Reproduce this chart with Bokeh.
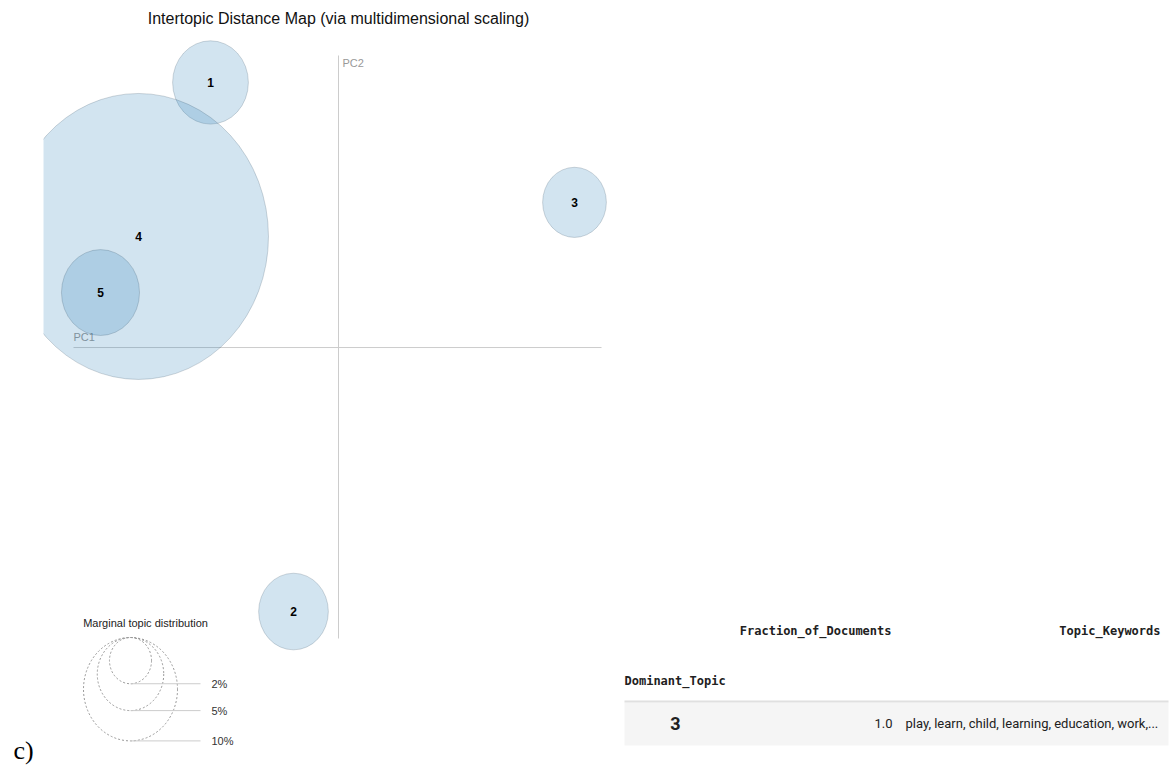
from bokeh.plotting import figure
from bokeh.models import Range1d, ColumnDataSource
from bokeh.layouts import row
from bokeh.core.properties import value
from bokeh.embed import file_html
from bokeh.resources import INLINE
import numpy as np

# ---- data: topic map (PC coordinates from MDS, marginal % of tokens) ----
topic_ids = ["1", "2", "3", "4", "5"]
topic_pc1 = [-0.128, -0.045, 0.236, -0.200, -0.238]
topic_pc2 = [0.241, -0.240, 0.132, 0.101, 0.050]
topic_pct = [6.5, 5.5, 4.6, 76.5, 6.9]

legend_pcts = [2, 5, 10]
legend_labels = ["2%", "5%", "10%"]

# ---- data: dominant topic table ----
table_columns = ["Fraction_of_Documents", "Topic_Keywords"]
table_index_name = "Dominant_Topic"
table_index = ["3"]
table_fraction = ["1.0"]
table_keywords = ["play, learn, child, learning, education, work,..."]

TITLE = "Intertopic Distance Map (via multidimensional scaling)"
R10 = 0.047  # radius (PC units) of a 10% topic


def radius(p):
    return R10 * np.sqrt(np.asarray(p, dtype=float) / 10.0)


def blank(p):
    p.xgrid.visible = False
    p.ygrid.visible = False
    p.outline_line_color = None
    p.min_border = 0
    p.background_fill_color = "white"
    p.border_fill_color = "white"


# ---- left strip with panel letter ----
strip = figure(width=43, height=769, x_range=Range1d(0, 43), y_range=Range1d(769, 0),
               toolbar_location=None, output_backend="svg",
               x_axis_location=None, y_axis_location=None)
blank(strip)
strip.text(x=[23], y=[750], text=["c)"], text_font=value("Liberation Serif"),
           text_font_size="26px", text_align="center", text_baseline="middle",
           text_color="black")

# ---- topic map ----
m = figure(width=567, height=769, x_range=Range1d(-0.295, 0.272),
           y_range=Range1d(-0.3836, 0.3155),
           toolbar_location=None, output_backend="svg",
           x_axis_location=None, y_axis_location=None)
blank(m)

# axes of the MDS space
m.segment(x0=[-0.265], y0=[0], x1=[0.263], y1=[0], line_color="#cccccc", line_width=1)
m.segment(x0=[0], y0=[-0.2645], x1=[0], y1=[0.2655], line_color="#cccccc", line_width=1)
m.text(x=[-0.265], y=[0.004], text=["PC1"], text_font=value("Liberation Sans"),
       text_font_size="11px", text_color="#999999", text_align="left", text_baseline="bottom")
m.text(x=[0.004], y=[0.259], text=["PC2"], text_font=value("Liberation Sans"),
       text_font_size="11px", text_color="#999999", text_align="left", text_baseline="middle")

r = radius(topic_pct)
src = ColumnDataSource(dict(x=topic_pc1, y=topic_pc2, w=2 * r, h=2 * r, t=topic_ids))
m.ellipse(x="x", y="y", width="w", height="h", source=src,
          fill_color="#1f77b4", fill_alpha=0.2, line_color="#2a4055", line_alpha=0.2,
          line_width=1)
m.text(x="x", y="y", text="t", source=src, text_font=value("Liberation Sans"),
       text_font_size="12px", text_font_style="bold", text_color="black",
       text_align="center", text_baseline="middle")

# title
m.text(x=[0.0], y=[0.299], text=[TITLE], text_font=value("Liberation Sans"),
       text_font_size="16px", text_color="#111111", text_align="center",
       text_baseline="middle")

# marginal topic distribution legend
lx = -0.208
ltop = -0.2636
lr = radius(legend_pcts)
lcy = ltop - lr
lbot = ltop - 2 * lr
m.ellipse(x=[lx] * 3, y=lcy, width=2 * lr, height=2 * lr, fill_color=None,
          line_color="#999999", line_dash="2 2", line_width=1)
m.segment(x0=[lx] * 3, y0=lbot, x1=[-0.138] * 3, y1=lbot, line_color="#cccccc", line_width=1)
m.text(x=[-0.127] * 3, y=lbot, text=legend_labels, text_font=value("Liberation Sans"),
       text_font_size="11px", text_color="#333333", text_align="left", text_baseline="middle")
m.text(x=[-0.193], y=[-0.25], text=["Marginal topic distribution"],
       text_font=value("Liberation Sans"), text_font_size="11px", text_color="#222222",
       text_align="center", text_baseline="middle")

# ---- table ----
t = figure(width=560, height=769, x_range=Range1d(610, 1170), y_range=Range1d(769, 0),
           toolbar_location=None, output_backend="svg",
           x_axis_location=None, y_axis_location=None)
blank(t)
t.quad(left=[624], right=[1168], top=[702], bottom=[745], fill_color="#f5f5f5", line_color=None)
t.segment(x0=[624], y0=[701], x1=[1168], y1=[701], line_color="#e0e0e0", line_width=2)
t.text(x=[891, 1160], y=[630, 630], text=table_columns, text_font=value("DejaVu Sans Mono"),
       text_font_size="12px", text_font_style="bold", text_color="#212121",
       text_align="right", text_baseline="middle")
t.text(x=[624], y=[680], text=[table_index_name], text_font=value("DejaVu Sans Mono"),
       text_font_size="12px", text_font_style="bold", text_color="#212121",
       text_align="left", text_baseline="middle")
t.text(x=[675], y=[723], text=table_index, text_font=value("Roboto"),
       text_font_size="18px", text_font_style="bold", text_color="#212121",
       text_align="center", text_baseline="middle")
t.text(x=[892], y=[723], text=table_fraction, text_font=value("Roboto"),
       text_font_size="13px", text_color="#212121", text_align="right", text_baseline="middle")
t.text(x=[905], y=[723], text=table_keywords, text_font=value("Roboto"),
       text_font_size="13px", text_color="#212121", text_align="left", text_baseline="middle")

layout = row(strip, m, t, spacing=0)
open("out.html", "w").write(file_html(layout, INLINE))
